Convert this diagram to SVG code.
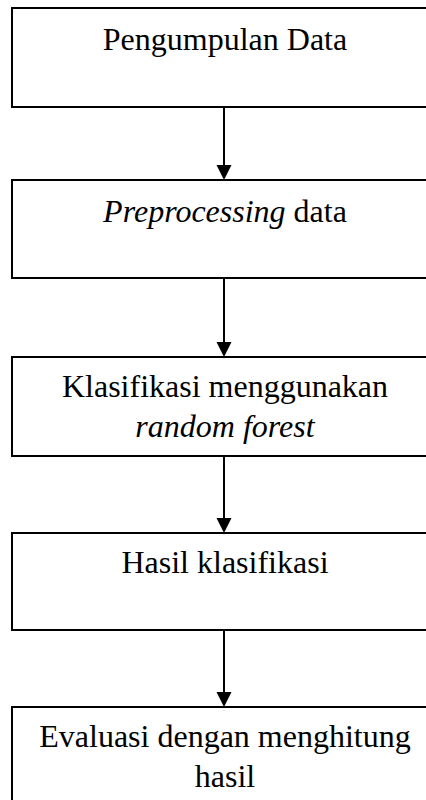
<svg xmlns="http://www.w3.org/2000/svg" width="426" height="800" viewBox="0 0 426 800">
<style>
.box{fill:#fff;stroke:#000;stroke-width:2}
.t{font-family:"Liberation Serif","Times New Roman",serif;font-size:32px;fill:#000;text-anchor:middle}
.i{font-style:italic}
.ln{stroke:#000;stroke-width:2}
.hd{fill:#000}
</style>
<rect width="426" height="800" fill="#fff"/>
<g id="connectors">
<line class="ln" x1="224" y1="107" x2="224" y2="166"/>
<path class="hd" d="M216.5,165 L231.5,165 L224,180 Z"/>
<line class="ln" x1="224" y1="278" x2="224" y2="343"/>
<path class="hd" d="M216.5,342 L231.5,342 L224,357 Z"/>
<line class="ln" x1="224" y1="456" x2="224" y2="519"/>
<path class="hd" d="M216.5,518 L231.5,518 L224,533 Z"/>
<line class="ln" x1="224" y1="630" x2="224" y2="693"/>
<path class="hd" d="M216.5,692 L231.5,692 L224,707 Z"/>
</g>
<g id="n1">
<rect class="box" x="12" y="8" width="426" height="99"/>
<text class="t" x="225" y="50">Pengumpulan Data</text>
</g>
<g id="n2">
<rect class="box" x="12" y="180" width="426" height="98"/>
<text class="t" x="225" y="222"><tspan class="i">Preprocessing</tspan> data</text>
</g>
<g id="n3">
<rect class="box" x="12" y="357" width="426" height="99"/>
<text class="t" x="225" y="397">Klasifikasi menggunakan</text>
<text class="t i" x="225" y="437">random forest</text>
</g>
<g id="n4">
<rect class="box" x="12" y="533" width="426" height="97"/>
<text class="t" x="225" y="573">Hasil klasifikasi</text>
</g>
<g id="n5">
<rect class="box" x="12" y="707" width="426" height="110"/>
<text class="t" x="225" y="747">Evaluasi dengan menghitung</text>
<text class="t" x="225" y="787">hasil</text>
</g>
</svg>
